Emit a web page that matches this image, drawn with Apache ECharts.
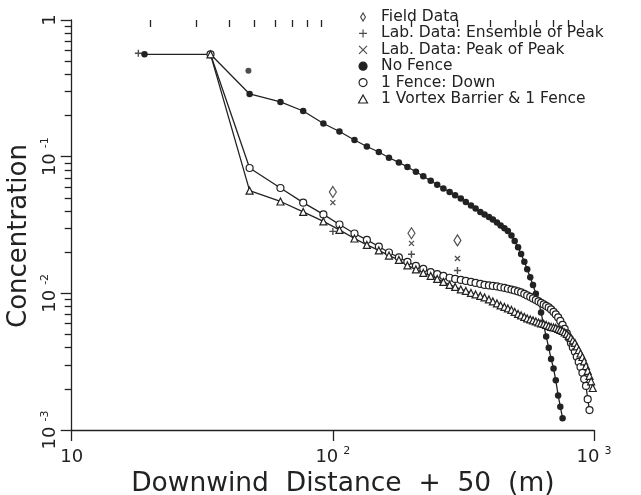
<!DOCTYPE html>
<html>
<head>
<meta charset="utf-8">
<script src="https://cdn.jsdelivr.net/npm/echarts@6/dist/echarts.min.js"></script>
<style>
  html, body { margin: 0; padding: 0; background: #fff; }
  #chart { width: 641px; height: 495px; }
</style>
</head>
<body>
<div id="chart"></div>
<script>
// Downwind distance + 50 (m) of the model stations
const modelX = [19, 34, 48, 63, 77, 92, 106, 121, 135, 150,
  164, 179, 193, 208, 222, 237, 251, 265, 280, 294,
  309, 323, 338, 352, 367, 381, 396, 410, 425, 439,
  454, 468, 483, 497, 512, 526, 541, 555, 570, 584,
  599, 613, 627, 642, 656, 671, 685, 700, 714, 729,
  743, 758, 772, 787, 801, 816, 830, 845, 859, 874,
  888, 903, 917, 932, 946, 961, 975, 989];

// No fence: stations 19 .. 758
const noFenceY = [0.561, 0.561, 0.2875, 0.2513, 0.2159, 0.1749, 0.1528, 0.1325, 0.1187, 0.1082,
  0.0982, 0.0907, 0.0841, 0.0775, 0.0719, 0.0666, 0.0623, 0.0585, 0.0552, 0.0523,
  0.0495, 0.0466, 0.0440, 0.0418, 0.0394, 0.0378, 0.0362, 0.0347, 0.0330, 0.0314,
  0.0299, 0.0286, 0.0265, 0.0242, 0.0217, 0.0194, 0.0170, 0.0150, 0.0131, 0.0115,
  0.00993, 0.00887, 0.00725, 0.00582, 0.00484, 0.00399, 0.00331, 0.00282, 0.00231, 0.00179,
  0.00148, 0.00122];
const noFenceExtraX = [47.5];
const noFenceExtraY = [0.426];

// 1 fence, down: stations 34 .. 961
const fenceDownY = [0.561, 0.0826, 0.0590, 0.0461, 0.0378, 0.0319, 0.0274, 0.0246, 0.0220,
  0.0199, 0.0183, 0.0170, 0.0159, 0.0151, 0.0143, 0.0138, 0.0134, 0.0130, 0.01275,
  0.01253, 0.01232, 0.01212, 0.01192, 0.01172, 0.01152, 0.01142, 0.01133, 0.01123, 0.01108,
  0.01095, 0.01080, 0.01066, 0.01050, 0.01032, 0.01015, 0.00990, 0.00965, 0.00941, 0.00918,
  0.00895, 0.00873, 0.00851, 0.00829, 0.00809, 0.00788, 0.00762, 0.00731, 0.00701, 0.00666,
  0.00628, 0.00587, 0.00549, 0.00509, 0.00472, 0.00434, 0.00402, 0.00373, 0.00343, 0.00315,
  0.00289, 0.00262, 0.00236, 0.00210, 0.00168, 0.00140];

// 1 vortex barrier & 1 fence: stations 34 .. 989
const vortexY = [0.561, 0.0564, 0.0470, 0.0394, 0.0336, 0.0291, 0.0252, 0.0226, 0.0206,
  0.0189, 0.01755, 0.0160, 0.01496, 0.01410, 0.01341, 0.01275, 0.01212, 0.01152, 0.01114,
  0.01068, 0.01041, 0.01007, 0.00982, 0.00957, 0.00933, 0.00902, 0.00873, 0.00844, 0.00816,
  0.00795, 0.00775, 0.00756, 0.00731, 0.00707, 0.00689, 0.00672, 0.00655, 0.00644, 0.00634,
  0.00623, 0.00612, 0.00602, 0.00597, 0.00587, 0.00577, 0.00568, 0.00563, 0.00558, 0.00549,
  0.00540, 0.00531, 0.00518, 0.00505, 0.00488, 0.00472, 0.00452, 0.00434, 0.00409, 0.00385,
  0.00363, 0.00342, 0.00318, 0.00294, 0.00271, 0.00249, 0.00227, 0.00203];

// Measurements
const fieldX = [100, 200, 300];
const fieldY = [0.0552, 0.0275, 0.0244];
const labEnsembleX = [18, 100, 200, 300];
const labEnsembleY = [0.571, 0.0284, 0.0193, 0.0147];
const labPeakX = [100, 200, 300];
const labPeakY = [0.0461, 0.0232, 0.0180];

// Axes
const xTickValues = [10, 100, 1000];
const xTickBase = ['10', '10', '10'];
const xTickExp = ['', '2', '3'];
const yTickValues = [1, 0.1, 0.01, 0.001];
const yTickBase = ['1', '10', '10', '10'];
const yTickExp = ['', '-1', '-2', '-3'];
const xMinorTicks = [20, 30, 40, 50, 60, 70, 80, 90, 200, 300, 400, 500, 600, 700, 800, 900];
const yMinorTicks = [0.002, 0.003, 0.004, 0.005, 0.006, 0.007, 0.008, 0.009,
  0.02, 0.03, 0.04, 0.05, 0.06, 0.07, 0.08, 0.09,
  0.2, 0.3, 0.4, 0.5, 0.6, 0.7, 0.8, 0.9];

const seriesNames = ['Field Data', 'Lab. Data: Ensemble of Peak', 'Lab. Data: Peak of Peak',
  'No Fence', '1 Fence: Down', '1 Vortex Barrier & 1 Fence'];
const xTitle = 'Downwind  Distance  +  50  (m)';
const yTitle = 'Concentration';

const INK = '#222';
const FONT = 'DejaVu Sans';
const X_MIN = 10, X_MAX = 1000, Y_MIN = 0.001, Y_MAX = 1;
const MINOR_LEN = 7;
const GRID_BOX = { left: 71.7, right: 47, top: 20, bottom: 65, outerBoundsMode: 'none' };

const pairs = (xs, ys) => ys.map((y, i) => [xs[i], y]);

const DIAMOND = 'path://M0,-5L3,0L0,5L-3,0Z';
const PLUS = 'path://M-4,0L4,0M0,-4L0,4';
const CROSS = 'path://M-3,-3L3,3M-3,3L3,-3';
const CIRCLE = 'path://M5,0A5,5,0,1,1,-5,0A5,5,0,1,1,5,0Z';
const TRIANGLE = 'path://M0,-5L5,4L-5,4Z';

function tickIndex(values, v) {
  return values.findIndex(t => Math.abs(Math.log10(t) - Math.log10(v)) < 1e-6);
}
function tickLabel(values, base, exp, v) {
  const i = tickIndex(values, v);
  if (i < 0) return '';
  return exp[i] ? `{b|${base[i]}}{e|${exp[i]}}` : `{b|${base[i]}}`;
}

const labelRich = {
  b: { fontFamily: FONT, fontSize: 18, color: INK, lineHeight: 22 },
  e: { fontFamily: FONT, fontSize: 11, color: INK, verticalAlign: 'top', padding: [0, 0, 0, 5] }
};

// Minor ticks live on a second, label-less pair of axes laid over the same
// rectangle; they run in decade (exponent) units, so linear spacing there is
// logarithmic spacing on the data axes.
const minorAxisCommon = {
  type: 'value',
  gridIndex: 1,
  axisLine: { show: false },
  axisLabel: { show: false },
  splitLine: { show: false }
};

const legendIcons = [DIAMOND, PLUS, CROSS, 'circle', CIRCLE, TRIANGLE];
const legendFills = ['#fff', '#fff', '#fff', INK, '#fff', '#fff'];

const option = {
  animation: false,
  backgroundColor: '#fff',
  grid: [Object.assign({}, GRID_BOX), Object.assign({}, GRID_BOX)],
  legend: {
    orient: 'vertical',
    left: 353,
    top: 4,
    itemWidth: 26,
    itemHeight: 8,
    itemGap: 0.4,
    selectedMode: false,
    textStyle: { fontFamily: FONT, fontSize: 15.5, color: INK, lineHeight: 15 },
    data: seriesNames.map((name, i) => ({
      name,
      icon: legendIcons[i],
      itemStyle: { color: legendFills[i], borderColor: INK, borderWidth: 1.2 }
    }))
  },
  xAxis: [
    {
      type: 'log',
      gridIndex: 0,
      logBase: 10,
      min: X_MIN,
      max: X_MAX,
      interval: 1,
      axisLine: { show: true, onZero: false, lineStyle: { color: INK, width: 1.3 } },
      axisTick: { show: true, length: 11, lineStyle: { color: INK, width: 1.3 } },
      splitLine: { show: false },
      axisLabel: {
        margin: 16,
        formatter: v => tickLabel(xTickValues, xTickBase, xTickExp, v),
        rich: labelRich
      },
      name: xTitle,
      nameLocation: 'middle',
      nameGap: 31,
      nameTextStyle: { fontFamily: FONT, fontSize: 26.5, color: INK, padding: [0, 0, 0, 20] }
    },
    Object.assign({}, minorAxisCommon, {
      position: 'bottom',
      min: Math.log10(X_MIN),
      max: Math.log10(X_MAX),
      axisTick: {
        show: true,
        length: MINOR_LEN,
        customValues: xMinorTicks.map(v => Math.log10(v)),
        lineStyle: { color: INK, width: 1.3 }
      }
    })
  ],
  yAxis: [
    {
      type: 'log',
      gridIndex: 0,
      logBase: 10,
      min: Y_MIN,
      max: Y_MAX,
      interval: 1,
      axisLine: { show: true, onZero: false, lineStyle: { color: INK, width: 1.3 } },
      axisTick: { show: true, length: 11, lineStyle: { color: INK, width: 1.3 } },
      splitLine: { show: false },
      axisLabel: {
        rotate: 90,
        margin: 10,
        formatter: v => tickLabel(yTickValues, yTickBase, yTickExp, v),
        rich: labelRich
      },
      name: yTitle,
      nameLocation: 'middle',
      nameRotate: 90,
      nameGap: 36,
      nameTextStyle: { fontFamily: FONT, fontSize: 26, color: INK, padding: [0, 22, 0, 0] }
    },
    Object.assign({}, minorAxisCommon, {
      position: 'left',
      min: Math.log10(Y_MIN),
      max: Math.log10(Y_MAX),
      axisTick: {
        show: true,
        length: MINOR_LEN,
        customValues: yMinorTicks.map(v => Math.log10(v)),
        lineStyle: { color: INK, width: 1.3 }
      }
    })
  ],
  series: [
    {
      name: seriesNames[3],
      type: 'line',
      data: pairs(modelX, noFenceY),
      symbol: 'circle',
      symbolSize: 6.5,
      showAllSymbol: true,
      itemStyle: { color: INK },
      lineStyle: { color: INK, width: 1.3 },
      z: 3
    },
    {
      name: seriesNames[3],
      type: 'scatter',
      data: pairs(noFenceExtraX, noFenceExtraY),
      symbol: 'circle',
      symbolSize: 6,
      itemStyle: { color: INK },
      z: 3
    },
    {
      name: seriesNames[4],
      type: 'line',
      data: pairs(modelX.slice(1), fenceDownY),
      symbol: 'circle',
      symbolSize: 7,
      showAllSymbol: true,
      itemStyle: { color: '#fff', borderColor: INK, borderWidth: 1.2 },
      lineStyle: { color: INK, width: 1.3 },
      z: 4
    },
    {
      name: seriesNames[5],
      type: 'line',
      data: pairs(modelX.slice(1), vortexY),
      symbol: 'triangle',
      symbolSize: 7,
      showAllSymbol: true,
      itemStyle: { color: '#fff', borderColor: INK, borderWidth: 1.2 },
      lineStyle: { color: INK, width: 1.3 },
      z: 4
    },
    {
      name: seriesNames[0],
      type: 'scatter',
      data: pairs(fieldX, fieldY),
      symbol: DIAMOND,
      symbolSize: [7, 11],
      itemStyle: { color: '#fff', borderColor: INK, borderWidth: 1.2 },
      z: 5
    },
    {
      name: seriesNames[1],
      type: 'scatter',
      data: pairs(labEnsembleX, labEnsembleY),
      symbol: PLUS,
      symbolSize: 7,
      itemStyle: { color: 'transparent', borderColor: INK, borderWidth: 1.4 },
      z: 5
    },
    {
      name: seriesNames[2],
      type: 'scatter',
      data: pairs(labPeakX, labPeakY),
      symbol: CROSS,
      symbolSize: 5,
      itemStyle: { color: 'transparent', borderColor: INK, borderWidth: 1.3 },
      z: 5
    }
  ]
};

const chart = echarts.init(document.getElementById('chart'), null, { renderer: 'canvas' });
chart.setOption(option);
</script>
</body>
</html>
